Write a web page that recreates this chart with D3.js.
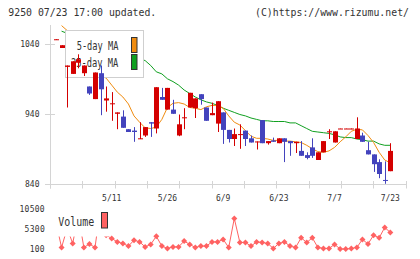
<!DOCTYPE html>
<html>
<head>
<meta charset="utf-8">
<script src="https://cdnjs.cloudflare.com/ajax/libs/d3/7.8.5/d3.min.js"></script>
<style>
  html, body { margin: 0; padding: 0; background: #fff; }
  svg { display: block; }
  text { font-family: "DejaVu Sans Mono", monospace; fill: #333; }
</style>
</head>
<body>
<svg id="chart" width="420" height="259"></svg>
<script>
// Daily candles (61 sessions, oldest first)
const opens = [1046.5, 1035, 1008, 998, 1014, 999, 980, 962, 999, 960,
  955, 941, 937, 919, 917, 905, 910, 929, 920, 965,
  947, 947, 910, 935, 950, 949, 969, 950, 939, 927,
  943, 918, 905, 911, 917, 906, 901, 932, 899, 903,
  899, 906, 902, 899, 888, 882, 893, 875, 886, 915,
  900, 919.5, 919.5, 919.5, 905, 910, 889, 883, 872, 846.5, 859];
const highs = [1047.5, 1039, 1010, 1016, 1026, 1010, 980, 1000, 1010, 980,
  972, 943, 946, 919, 922, 929, 922, 929, 979, 978,
  978, 961, 940, 949, 971, 963, 969, 950, 957, 959,
  943, 918, 920, 926, 917, 910, 901.5, 932, 902, 907,
  906, 906, 902, 901, 902, 886, 906, 886, 902, 919,
  916, 920, 920, 920, 936, 914, 901, 883, 876, 873, 899];
const lows = [1046.5, 1035, 950, 998, 1006, 995, 968, 962, 939, 944,
  931, 919, 921, 915, 901, 905, 908, 908, 913, 961,
  947, 941, 909, 919, 950, 935, 954, 931, 939, 915,
  898, 900, 895, 891, 895, 900, 890, 899, 897, 901,
  899, 872, 881, 885, 881, 876, 878, 875, 886, 905,
  900, 919.5, 919.5, 919, 905, 901, 883, 858, 849, 841, 859];
const closes = [1047.5, 1039, 1010, 1016, 1019, 1010, 970, 1000, 976, 963,
  956, 943, 921, 915, 915, 906, 922, 927, 979, 961,
  978, 941, 926, 936, 971, 963, 962, 931, 942, 959,
  918, 905, 912, 912, 905, 900, 901.5, 899, 902, 901,
  906, 901, 899, 901, 881, 878, 881, 886, 902, 916,
  916, 920, 920, 920, 920, 901, 883, 869, 855, 846, 888];

// Moving averages
const ma5 = [null, 1067, 1060, 1045, 1032, 1022, 1010, 1003, 996, 992,
  982, 972, 965, 955, 938, 929, 921, 920, 922, 933,
  950, 956, 957, 955, 950, 949, 947, 951, 953, 953,
  949, 938, 929, 925, 917, 909, 906, 906, 905, 903,
  903, 902, 902, 901, 900, 896, 891, 887, 886, 888,
  893, 901, 908, 916, 919, 918, 910, 900, 886, 875, 871];
const ma25 = [null, 1059, 1056, 1053, 1051, 1049, 1046, 1044, 1041, 1038,
  1035, 1033, 1030, 1027, 1024, 1020, 1017, 1010, 1001, 998,
  991, 987, 982, 975, 970, 965, 961, 958, 956, 953,
  949, 946, 943, 940, 938, 935, 933, 931, 931, 930,
  930, 930, 928, 928, 924, 920, 916, 915, 914, 913,
  911, 908, 907, 907, 905, 904, 902, 902, 898, 896, 896];

const volumes = [7000, 500, 5500, 1550, 9000, 500, 1400, 500, 11000, 3700,
  2850, 1950, 1550, 850, 2400, 1950, 650, 1300, 3400, 850,
  250, 650, 650, 2150, 1300, 500, 850, 850, 1950, 1950,
  2600, 500, 8050, 1800, 1800, 850, 1950, 1800, 1550, 250,
  1550, 1950, 850, 500, 3000, 1800, 3000, 500, 250, 250,
  1300, 100, 100, 250, 500, 2600, 1400, 3700, 3000, 5700, 4400];

const dateTicks = [
  { i: 10, label: '5/11' }, { i: 20, label: '5/26' }, { i: 30, label: '6/9' },
  { i: 40, label: '6/23' }, { i: 50, label: '7/7' }, { i: 60, label: '7/23' }
];
const priceTicks = [1040, 940, 840];
const volumeTicks = [10500, 5300, 100];

const UP = '#d40000', DOWN = '#4343bd', MA5C = '#f08c10', MA25C = '#10a020', VOLC = '#ff6262';
const GRID = '#d4d4d4';

const svg = d3.select('#chart');

// Scales
const x = d3.scaleLinear().domain([0, 60]).range([56, 390.3]);
const y = d3.scaleLinear().domain([840, 1040]).range([184.5, 44.5]);
const yv = d3.scaleLinear().domain([100, 10500]).range([249, 209]);
const gridX = d3.scaleLinear().domain([0, 11]).range([50, 405.7]);
const px = i => Math.round(x(i)) + 0.5;

// Header
svg.append('text').attr('x', 8.3).attr('y', 16)
  .style('font-size', '10.5px').attr('textLength', 148).attr('lengthAdjust', 'spacingAndGlyphs')
  .text('9250 07/23 17:00 updated.');
svg.append('text').attr('x', 255).attr('y', 16)
  .style('font-size', '10.5px').attr('textLength', 154).attr('lengthAdjust', 'spacingAndGlyphs')
  .text('(C)https://www.rizumu.net/');

// Axes
const axes = svg.append('g').attr('stroke', GRID).attr('stroke-width', 1);
axes.append('line').attr('x1', 50.5).attr('x2', 50.5).attr('y1', 25).attr('y2', 188.5);
axes.append('line').attr('x1', 45).attr('x2', 406).attr('y1', y(840)).attr('y2', y(840));
axes.selectAll('.xt').data(d3.range(12)).join('line')
  .attr('x1', k => Math.round(gridX(k)) + 0.5).attr('x2', k => Math.round(gridX(k)) + 0.5)
  .attr('y1', 181).attr('y2', 188.5);
axes.selectAll('.yt').data(priceTicks).join('line')
  .attr('x1', 45).attr('x2', 55).attr('y1', d => y(d)).attr('y2', d => y(d));

svg.selectAll('.ylab').data(priceTicks).join('text')
  .attr('x', 39.5).attr('y', d => y(d) + 2.5).attr('text-anchor', 'end')
  .style('font-size', '8px').text(d => d);

svg.selectAll('.xlab').data(dateTicks).join('text')
  .attr('x', d => x(d.i)).attr('y', 201).attr('text-anchor', 'middle')
  .style('font-size', '8px').text(d => d.label);

// Moving averages
svg.append('clipPath').attr('id', 'plot')
  .append('rect').attr('x', 50).attr('y', 25).attr('width', 357).attr('height', 160);

const maLine = d3.line()
  .defined(d => d != null)
  .x((d, i) => x(i))
  .y(d => y(d));

const maG = svg.append('g').attr('clip-path', 'url(#plot)').attr('fill', 'none').attr('stroke-width', 1);
maG.append('path').attr('d', maLine(ma25)).attr('stroke', MA25C);
maG.append('path').attr('d', maLine(ma5)).attr('stroke', MA5C);

// Price legend (sits above the MA lines, below the candles)
const lg = svg.append('g');
lg.append('rect').attr('x', 65.5).attr('y', 30.5).attr('width', 78).attr('height', 47)
  .attr('fill', '#fff').attr('stroke', '#cfcfcf');
lg.append('text').attr('x', 76.7).attr('y', 50).style('font-size', '11.5px')
  .attr('textLength', 41.7).attr('lengthAdjust', 'spacingAndGlyphs').text('5-day MA');
lg.append('text').attr('x', 71).attr('y', 66.7).style('font-size', '11.5px')
  .attr('textLength', 47.3).attr('lengthAdjust', 'spacingAndGlyphs').text('25-day MA');
lg.append('rect').attr('x', 131.5).attr('y', 37.5).attr('width', 5.5).attr('height', 15)
  .attr('fill', MA5C).attr('stroke', '#333');
lg.append('rect').attr('x', 131.5).attr('y', 54.5).attr('width', 5.5).attr('height', 15)
  .attr('fill', MA25C).attr('stroke', '#333');

// Candles
const candles = svg.append('g').selectAll('g').data(d3.range(opens.length)).join('g');
candles.append('line')
  .attr('x1', px).attr('x2', px)
  .attr('y1', i => y(highs[i])).attr('y2', i => y(lows[i]))
  .attr('stroke', i => closes[i] >= opens[i] ? UP : DOWN).attr('stroke-width', 1);
candles.append('rect')
  .attr('x', i => Math.round(x(i)) - 2)
  .attr('width', 5)
  .attr('y', i => y(Math.max(opens[i], closes[i])))
  .attr('height', i => Math.max(1, Math.abs(y(opens[i]) - y(closes[i]))))
  .attr('fill', i => closes[i] >= opens[i] ? UP : DOWN);

// Volume
svg.selectAll('.vlab').data(volumeTicks).join('text')
  .attr('x', 45).attr('y', d => yv(d) + 2.8).attr('text-anchor', 'end')
  .style('font-size', '8px').style('letter-spacing', '0.3px').text(d => d);

const volLine = d3.line().x((d, i) => x(i)).y(d => yv(d));
svg.append('path').attr('d', volLine(volumes))
  .attr('fill', 'none').attr('stroke', VOLC).attr('stroke-width', 1);
const diamond = d3.symbol().type(d3.symbolSquare).size(18);
svg.append('g').selectAll('path').data(volumes).join('path')
  .attr('d', diamond)
  .attr('transform', (d, i) => `translate(${x(i)},${yv(d)}) rotate(45)`)
  .attr('fill', VOLC);

// Volume legend
const vl = svg.append('g');
vl.append('rect').attr('x', 52).attr('y', 202).attr('width', 58).attr('height', 34.5).attr('fill', '#fff');
vl.append('text').attr('x', 58.3).attr('y', 226).style('font-size', '11.5px')
  .attr('textLength', 36).attr('lengthAdjust', 'spacingAndGlyphs').text('Volume');
vl.append('rect').attr('x', 101.5).attr('y', 212.5).attr('width', 6).attr('height', 15.5)
  .attr('fill', VOLC).attr('stroke', '#333');
</script>
</body>
</html>
